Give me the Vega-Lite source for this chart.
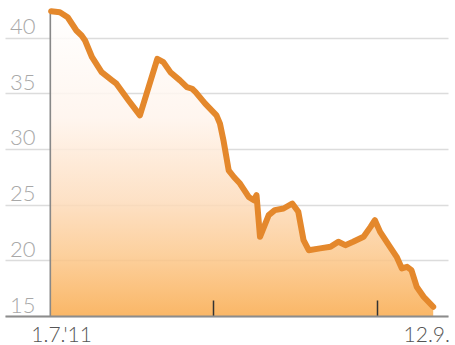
{
  "$schema": "https://vega.github.io/schema/vega-lite/v6.json",
  "width": 443,
  "height": 303,
  "autosize": {"type": "none"},
  "padding": {"left": 5, "top": 13, "right": 7, "bottom": 29},
  "background": "white",
  "config": {"view": {"stroke": null}, "font": "Lato"},
  "data": {"values": [
    {"date": "2011-07-01", "value": 42.36},
    {"date": "2011-07-11", "value": 42.27},
    {"date": "2011-07-20", "value": 41.82},
    {"date": "2011-07-30", "value": 40.63},
    {"date": "2011-08-05", "value": 40.18},
    {"date": "2011-08-09", "value": 39.73},
    {"date": "2011-08-17", "value": 38.23},
    {"date": "2011-08-28", "value": 36.89},
    {"date": "2011-09-09", "value": 36.15},
    {"date": "2011-09-14", "value": 35.85},
    {"date": "2011-09-28", "value": 34.35},
    {"date": "2011-10-11", "value": 33.01},
    {"date": "2011-10-21", "value": 35.55},
    {"date": "2011-10-31", "value": 38.09},
    {"date": "2011-11-07", "value": 37.79},
    {"date": "2011-11-15", "value": 36.89},
    {"date": "2011-11-26", "value": 36.15},
    {"date": "2011-12-04", "value": 35.55},
    {"date": "2011-12-10", "value": 35.4},
    {"date": "2011-12-14", "value": 35.1},
    {"date": "2011-12-25", "value": 34.06},
    {"date": "2012-01-07", "value": 33.01},
    {"date": "2012-01-11", "value": 32.27},
    {"date": "2012-01-15", "value": 30.77},
    {"date": "2012-01-18", "value": 29.43},
    {"date": "2012-01-21", "value": 28.08},
    {"date": "2012-01-27", "value": 27.48},
    {"date": "2012-02-03", "value": 26.89},
    {"date": "2012-02-13", "value": 25.69},
    {"date": "2012-02-19", "value": 25.39},
    {"date": "2012-02-22", "value": 25.84},
    {"date": "2012-02-26", "value": 22.11},
    {"date": "2012-03-07", "value": 24.05},
    {"date": "2012-03-14", "value": 24.5},
    {"date": "2012-03-24", "value": 24.65},
    {"date": "2012-04-03", "value": 25.1},
    {"date": "2012-04-10", "value": 24.35},
    {"date": "2012-04-16", "value": 21.81},
    {"date": "2012-04-22", "value": 20.91},
    {"date": "2012-05-05", "value": 21.07},
    {"date": "2012-05-17", "value": 21.21},
    {"date": "2012-05-26", "value": 21.66},
    {"date": "2012-06-03", "value": 21.36},
    {"date": "2012-06-12", "value": 21.66},
    {"date": "2012-06-24", "value": 22.11},
    {"date": "2012-07-02", "value": 23.0},
    {"date": "2012-07-07", "value": 23.6},
    {"date": "2012-07-13", "value": 22.55},
    {"date": "2012-07-23", "value": 21.36},
    {"date": "2012-08-01", "value": 20.31},
    {"date": "2012-08-07", "value": 19.27},
    {"date": "2012-08-13", "value": 19.41},
    {"date": "2012-08-18", "value": 19.12},
    {"date": "2012-08-24", "value": 17.63},
    {"date": "2012-09-01", "value": 16.73},
    {"date": "2012-09-12", "value": 15.83}
  ]},
  "encoding": {
    "x": {
      "field": "date",
      "type": "temporal",
      "scale": {
        "type": "utc",
        "domain": [
          {"year": 2011, "month": 5, "date": 9, "utc": true},
          {"year": 2012, "month": 9, "date": 29, "utc": true}
        ]
      },
      "axis": {
        "title": null,
        "grid": false,
        "values": [
          {"year": 2011, "month": 7, "date": 1, "utc": true},
          {"year": 2012, "month": 1, "date": 3, "utc": true},
          {"year": 2012, "month": 7, "date": 9, "utc": true},
          {"year": 2012, "month": 9, "date": 12, "utc": true}
        ],
        "domainColor": "#8c8c8c",
        "domainWidth": 2,
        "tickColor": "#333333",
        "tickWidth": 1.5,
        "tickSize": -16,
        "tickOpacity": {"condition": {"test": "datum.index == 0 || datum.index == 1", "value": 0}, "value": 1},
        "labelExpr": "datum.index == 0 ? \"1.7.'11\" : (datum.index == 1 ? '12.9.' : '')",
        "labelFontSize": 21,
        "labelFontWeight": 300,
        "labelColor": "#555555",
        "labelPadding": 24,
        "labelBaseline": "top",
        "labelOffset": {"condition": {"test": "datum.index == 0", "value": 10}, "value": -7},
        "labelFlush": false,
        "labelOverlap": false,
        "zindex": 1
      }
    },
    "y": {
      "field": "value",
      "type": "quantitative",
      "scale": {"domain": [15, 42.2], "nice": false, "zero": false},
      "axis": {
        "title": null,
        "values": [15, 20, 25, 30, 35, 40],
        "offset": -45,
        "domainColor": "#888888",
        "domainWidth": 2,
        "ticks": false,
        "grid": true,
        "gridColor": "#dcdcdc",
        "gridWidth": 1.5,
        "labelFontSize": 22,
        "labelFontWeight": 300,
        "labelColor": "#a8a8a8",
        "labelPadding": 15,
        "labelAlign": "right",
        "labelBaseline": "alphabetic",
        "labelOffset": -4,
        "labelFlush": false
      }
    }
  },
  "layer": [
    {
      "mark": {
        "type": "area",
        "opacity": 0.85,
        "color": {
          "gradient": "linear",
          "x1": 0, "y1": 0, "x2": 0, "y2": 1,
          "stops": [
            {"offset": 0, "color": "#ffffff"},
            {"offset": 0.35, "color": "#fff4ec"},
            {"offset": 0.62, "color": "#fddcbc"},
            {"offset": 0.8, "color": "#fcc88c"},
            {"offset": 1, "color": "#f9aa4c"}
          ]
        }
      },
      "encoding": {"y2": {"datum": 15}}
    },
    {
      "mark": {
        "type": "line",
        "color": "#e4882c",
        "strokeWidth": 6,
        "strokeJoin": "round",
        "strokeCap": "round",
        "clip": false
      }
    }
  ]
}
